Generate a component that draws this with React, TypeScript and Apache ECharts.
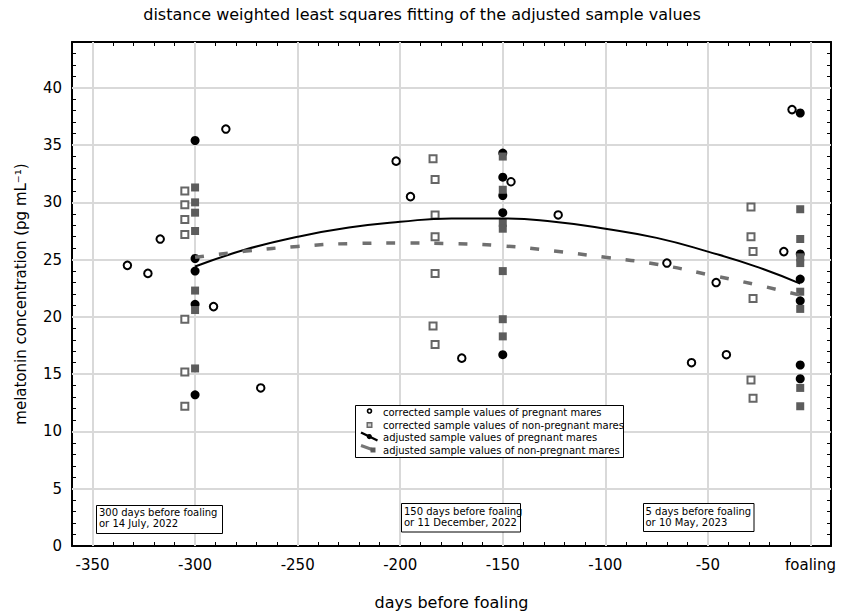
import React, { useEffect, useRef } from "react";
import * as echarts from "echarts";

// ---- data (days before foaling, melatonin pg/mL) ----
const xGridValues = [-350, -300, -250, -200, -150, -100, -50, 0];
const yGridValues = [5, 10, 15, 20, 25, 30, 35, 40];

const correctedPregnant: [number, number][] = [
  [-333, 24.5], [-323, 23.8], [-317, 26.8], [-291, 20.9], [-285, 36.4], [-268, 13.8],
  [-202, 33.6], [-195, 30.5], [-170, 16.4], [-146, 31.8], [-123, 28.9],
  [-70, 24.7], [-58, 16.0], [-46, 23.0], [-41, 16.7], [-13, 25.7], [-9, 38.1],
];

const correctedNonPregnant: [number, number][] = [
  [-305, 31.0], [-305, 29.8], [-305, 28.5], [-305, 27.2], [-305, 19.8], [-305, 15.2], [-305, 12.2],
  [-184, 33.8], [-183, 32.0], [-183, 28.9], [-183, 27.0], [-183, 23.8], [-184, 19.2], [-183, 17.6],
  [-29, 29.6], [-29, 27.0], [-28, 25.7], [-28, 21.6], [-29, 14.5], [-28, 12.9],
];

const adjustedPregnant: [number, number][] = [
  [-300, 35.4], [-300, 25.1], [-300, 24.0], [-300, 21.1], [-300, 13.2],
  [-150, 34.3], [-150, 32.2], [-150, 30.6], [-150, 29.1], [-150, 16.7],
  [-5, 37.8], [-5, 25.5], [-5, 23.3], [-5, 21.4], [-5, 15.8], [-5, 14.6],
];

const adjustedNonPregnant: [number, number][] = [
  [-300, 31.3], [-300, 30.0], [-300, 29.1], [-300, 27.5], [-300, 22.3], [-300, 20.6], [-300, 15.5],
  [-150, 34.0], [-150, 31.1], [-150, 28.2], [-150, 27.7], [-150, 24.0], [-150, 19.8], [-150, 18.3],
  [-5, 29.4], [-5, 26.8], [-5, 25.2], [-5, 24.7], [-5, 22.2], [-5, 20.7], [-5, 13.8], [-5, 12.2],
];

const pregnantFit: [number, number][] = [
  [-300, 24.4], [-275, 25.9], [-250, 27.0], [-225, 27.8], [-200, 28.3], [-175, 28.6],
  [-150, 28.6], [-125, 28.3], [-100, 27.7], [-75, 26.9], [-50, 25.7], [-25, 24.3], [-5, 22.9],
];

const nonPregnantFit: [number, number][] = [
  [-300, 25.2], [-275, 25.75], [-250, 26.15], [-225, 26.4], [-200, 26.45], [-175, 26.4],
  [-150, 26.2], [-125, 25.75], [-100, 25.2], [-75, 24.6], [-50, 23.7], [-25, 22.75], [-5, 21.9],
];

const legendLabels = [
  "corrected sample values of pregnant mares",
  "corrected sample values of non-pregnant mares",
  "adjusted sample values of pregnant mares",
  "adjusted sample values of non-pregnant mares",
];

const annotations = [
  { lines: "300 days before foaling\nor 14 July, 2022" },
  { lines: "150 days before foaling\nor 11 December, 2022" },
  { lines: "5 days before foaling\nor 10 May, 2023" },
];

const FONT = '"DejaVu Sans", "Liberation Sans", Arial, sans-serif';

export default function App() {
  const ref = useRef<HTMLDivElement>(null);

  useEffect(() => {
    document.body.style.margin = "0";
    if (!ref.current) return;
    const chart = echarts.init(ref.current, null, { renderer: "svg" });

    const xMin = -360, xMax = 10, yMin = 0, yMax = 44;
    const axisLine = { show: true, onZero: false, lineStyle: { color: "#000", width: 2 } };
    const tick = { show: true, inside: true, length: 4, lineStyle: { color: "#000", width: 1 } };

    const annoBoxes = [
      { x: 96, y: 505, w: 126, h: 28, tx: 99, ty: 507 },
      { x: 401, y: 503, w: 119, h: 28.5, tx: 404, ty: 506 },
      { x: 643, y: 503, w: 110.5, h: 28, tx: 645.5, ty: 505.5 },
    ];

    const graphic: any[] = [];
    annoBoxes.forEach((b, i) => {
      graphic.push({
        type: "rect",
        shape: { x: b.x + 0.5, y: b.y + 0.5, width: b.w, height: b.h },
        style: { fill: "#fff", stroke: "#000", lineWidth: 1 },
        z: 20,
      });
      graphic.push({
        type: "text",
        x: b.tx,
        y: b.ty,
        style: {
          text: annotations[i].lines,
          font: `10px ${FONT}`,
          fill: "#000",
          lineHeight: 11,
          verticalAlign: "top",
          align: "left",
        },
        z: 21,
      });
    });

    // legend box
    graphic.push({
      type: "rect",
      shape: { x: 355.5, y: 405.5, width: 268, height: 52 },
      style: { fill: "#fff", stroke: "#000", lineWidth: 1 },
      z: 20,
    });
    const legendY = [412.3, 425, 437.7, 450.3];
    legendLabels.forEach((t, i) => {
      graphic.push({
        type: "text",
        x: 383,
        y: legendY[i],
        style: { text: t, font: `10px ${FONT}`, fill: "#000", verticalAlign: "middle", align: "left" },
        z: 21,
      });
    });
    graphic.push(
      { type: "circle", shape: { cx: 369.5, cy: 411, r: 2 }, style: { fill: "#fff", stroke: "#000", lineWidth: 1.6 }, z: 21 },
      { type: "rect", shape: { x: 367.2, y: 422.7, width: 4.6, height: 4.6 }, style: { fill: "#ccc", stroke: "#666", lineWidth: 1.4 }, z: 21 },
      { type: "line", shape: { x1: 361, y1: 432.5, x2: 377.5, y2: 440.5 }, style: { stroke: "#000", lineWidth: 2.4 }, z: 21 },
      { type: "circle", shape: { cx: 369.3, cy: 436.6, r: 2.6 }, style: { fill: "#000" }, z: 21 },
      { type: "line", shape: { x1: 361, y1: 445.5, x2: 372, y2: 449.5 }, style: { stroke: "#777", lineWidth: 3 }, z: 21 },
      { type: "rect", shape: { x: 370.5, y: 447.5, width: 5, height: 5 }, style: { fill: "#5c5c5c" }, z: 21 }
    );

    const option: any = {
      animation: false,
      backgroundColor: "#fff",
      textStyle: { fontFamily: FONT },
      title: {
        text: "distance weighted least squares fitting of the adjusted sample values",
        left: "center",
        top: 1,
        textStyle: { fontFamily: FONT, fontSize: 16, fontWeight: "normal", color: "#000" },
      },
      grid: { left: 72, top: 42, width: 759, height: 505.5, containLabel: false },
      xAxis: [
        {
          type: "value",
          position: "bottom",
          min: xMin,
          max: xMax,
          interval: 10,
          axisLine,
          axisTick: tick,
          splitLine: { show: false },
          axisLabel: {
            margin: 11,
            color: "#000",
            fontSize: 15,
            fontFamily: FONT,
            formatter: (v: number) => {
              const r = Math.round(v);
              if (r === 0) return "foaling";
              return xGridValues.includes(r) ? String(r) : "";
            },
          },
          name: "days before foaling",
          nameLocation: "middle",
          nameGap: 48,
          nameTextStyle: { fontSize: 16, color: "#000", fontFamily: FONT },
        },
        {
          type: "value",
          position: "top",
          min: xMin,
          max: xMax,
          interval: 10,
          axisLine,
          axisTick: tick,
          axisLabel: { show: false },
          splitLine: { show: false },
        },
      ],
      yAxis: [
        {
          type: "value",
          position: "left",
          min: yMin,
          max: yMax,
          interval: 1,
          axisLine,
          axisTick: tick,
          splitLine: { show: false },
          axisLabel: {
            margin: 10,
            color: "#000",
            fontSize: 15,
            fontFamily: FONT,
            formatter: (v: number) => {
              const r = Math.round(v);
              return r % 5 === 0 && r <= 40 ? String(r) : "";
            },
          },
          name: "melatonin concentration (pg mL\u207B\u00B9)",
          nameLocation: "middle",
          nameGap: 44,
          nameTextStyle: { fontSize: 15, color: "#000", fontFamily: FONT },
        },
        {
          type: "value",
          position: "right",
          min: yMin,
          max: yMax,
          interval: 1,
          axisLine,
          axisTick: tick,
          axisLabel: { show: false },
          splitLine: { show: false },
        },
      ],
      series: [
        {
          name: legendLabels[0],
          type: "scatter",
          data: correctedPregnant,
          symbol: "circle",
          symbolSize: 7.5,
          itemStyle: { color: "#fff", borderColor: "#000", borderWidth: 2, opacity: 1 },
          z: 3,
          markLine: {
            silent: true,
            z: 1,
            symbol: ["none", "none"],
            label: { show: false },
            lineStyle: { color: "#d9d9d9", width: 2, type: "solid" },
            emphasis: { disabled: true },
            data: [
              ...xGridValues.map((v) => ({ xAxis: v })),
              ...yGridValues.map((v) => ({ yAxis: v })),
            ],
          },
        },
        {
          name: legendLabels[1],
          type: "scatter",
          data: correctedNonPregnant,
          symbol: "rect",
          symbolSize: 7,
          itemStyle: { color: "#fff", borderColor: "#666", borderWidth: 2, opacity: 1 },
          z: 3,
        },
        {
          name: legendLabels[2],
          type: "scatter",
          data: adjustedPregnant,
          symbol: "circle",
          symbolSize: 9,
          itemStyle: { color: "#000", opacity: 1 },
          z: 4,
        },
        {
          name: legendLabels[3],
          type: "scatter",
          data: adjustedNonPregnant,
          symbol: "rect",
          symbolSize: 8,
          itemStyle: { color: "#5c5c5c", opacity: 1 },
          z: 5,
        },
        {
          name: "pregnant fit",
          type: "line",
          data: pregnantFit,
          smooth: true,
          showSymbol: false,
          symbol: "none",
          lineStyle: { color: "#000", width: 2 },
          z: 6,
        },
        {
          name: "non-pregnant fit",
          type: "line",
          data: nonPregnantFit,
          smooth: true,
          showSymbol: false,
          symbol: "none",
          lineStyle: { color: "#707070", width: 3.5, type: [9, 15], cap: "butt" },
          z: 6,
        },
      ],
      graphic,
    };

    chart.setOption(option);
    return () => chart.dispose();
  }, []);

  return <div ref={ref} style={{ width: 844, height: 615 }} />;
}
